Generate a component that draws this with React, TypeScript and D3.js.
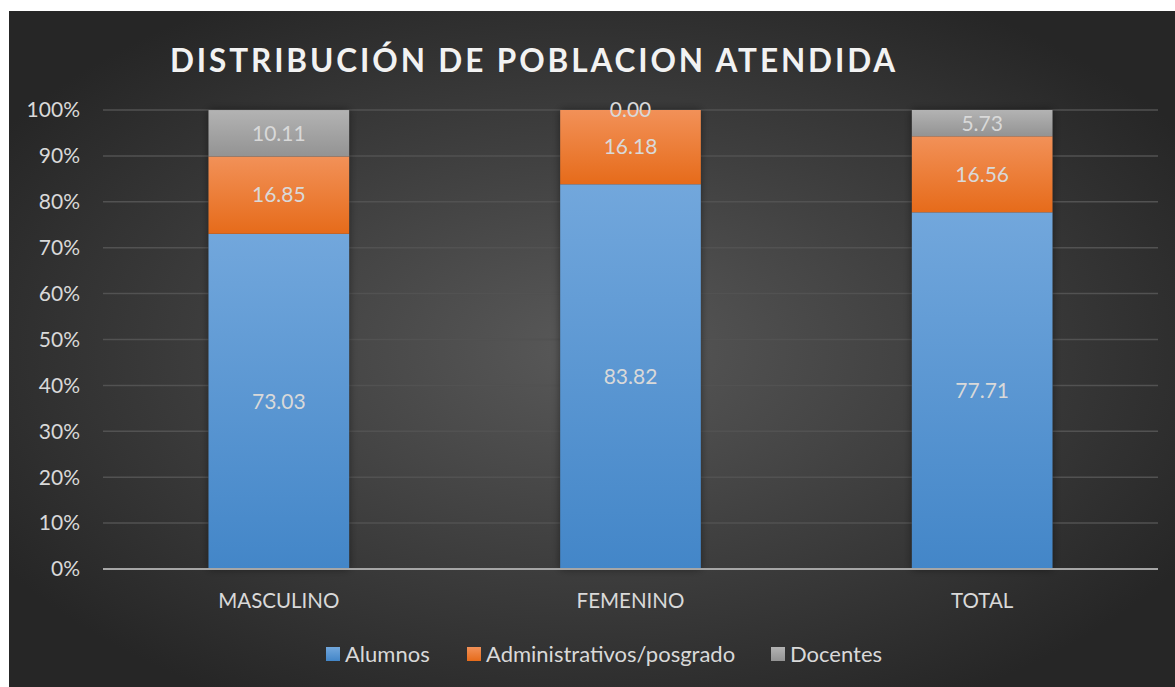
import React from "react";
import * as d3 from "d3";

const categories = ["MASCULINO", "FEMENINO", "TOTAL"];
const seriesNames = ["Alumnos", "Administrativos/posgrado", "Docentes"];
const alumnos = [73.03, 83.82, 77.71];
const administrativos = [16.85, 16.18, 16.56];
const docentes = [10.11, 0.0, 5.73];
const yTicks = [0, 10, 20, 30, 40, 50, 60, 70, 80, 90, 100];

const W = 1166;
const H = 676;
const OX = 9;
const OY = 11;
const FONT = "Lato, 'Open Sans', sans-serif";

const gradIds = ["gBlue", "gOrange", "gGray"];
const gradStops = [
  ["#72a7dc", "#4386c8"],
  ["#f29158", "#e66b1a"],
  ["#b3b3b3", "#939393"],
];

export default function App() {
  const x = d3
    .scaleBand<string>()
    .domain(categories)
    .range([103 - OX, 1158 - OX])
    .paddingInner(0.6)
    .paddingOuter(0.3);
  const y = d3.scaleLinear().domain([0, 100]).range([569 - OY, 110 - OY]);

  const rows = categories.map((c, i) => ({
    cat: c,
    Alumnos: alumnos[i],
    "Administrativos/posgrado": administrativos[i],
    Docentes: docentes[i],
  }));
  const stack = d3.stack<any>().keys(seriesNames)(rows);

  const legendX = [326 - OX, 467 - OX, 771 - OX];
  const legendY = 654 - OY;

  return (
    <svg
      width={W}
      height={H}
      style={{ position: "absolute", left: OX, top: OY, display: "block" }}
    >
      <defs>
        <radialGradient id="bg" cx="50%" cy="50%" r="60%" fx="50%" fy="50%">
          <stop offset="0%" stopColor="#595959" />
          <stop offset="100%" stopColor="#262626" />
        </radialGradient>
        {gradIds.map((id, i) => (
          <linearGradient key={id} id={id} x1="0" y1="0" x2="0" y2="1">
            <stop offset="0%" stopColor={gradStops[i][0]} />
            <stop offset="100%" stopColor={gradStops[i][1]} />
          </linearGradient>
        ))}
        <filter id="shadow" x="-20%" y="-20%" width="140%" height="140%">
          <feDropShadow dx="0" dy="0" stdDeviation="4" floodColor="#000" floodOpacity="0.45" />
        </filter>
      </defs>
      <rect x={0} y={0} width={W} height={H} fill="url(#bg)" />

      <text
        x={534 - OX}
        y={72 - OY}
        textAnchor="middle"
        fill="#f2f2f2"
        fontFamily={FONT}
        fontWeight={700}
        fontSize={31.5}
        letterSpacing={2.9}
      >
        DISTRIBUCIÓN DE POBLACION ATENDIDA
      </text>

      {yTicks.map((t) => (
        <g key={t}>
          {t > 0 && (
            <line
              x1={103 - OX}
              x2={1158 - OX}
              y1={y(t)}
              y2={y(t)}
              stroke="#525252"
              strokeWidth={1.5}
            />
          )}
          <text
            x={80 - OX}
            y={y(t)}
            dy="0.35em"
            textAnchor="end"
            fill="#d9d9d9"
            fontFamily={FONT}
            fontSize={21}
          >
            {t}%
          </text>
        </g>
      ))}

      {categories.map((c) => (
        <rect
          key={"sh" + c}
          x={x(c)!}
          y={y(100)}
          width={x.bandwidth()}
          height={y(0) - y(100)}
          fill="#333"
          filter="url(#shadow)"
        />
      ))}

      {stack.map((s, si) => (
        <g key={s.key}>
          {s.map((d, i) => (
            <rect
              key={i}
              x={x(categories[i])!}
              y={y(d[1])}
              width={x.bandwidth()}
              height={Math.max(0, y(d[0]) - y(d[1]))}
              fill={`url(#${gradIds[si]})`}
            />
          ))}
        </g>
      ))}

      {stack.map((s, si) => (
        <g key={"l" + s.key}>
          {s.map((d, i) => (
            <text
              key={i}
              x={x(categories[i])! + x.bandwidth() / 2}
              y={y((d[0] + d[1]) / 2)}
              dy="0.35em"
              textAnchor="middle"
              fill="#d9d9d9"
              fontFamily={FONT}
              fontSize={21}
            >
              {(d[1] - d[0]).toFixed(2)}
            </text>
          ))}
        </g>
      ))}

      <line
        x1={103 - OX}
        x2={1158 - OX}
        y1={y(0)}
        y2={y(0)}
        stroke="#a6a6a6"
        strokeWidth={2}
      />

      {categories.map((c) => (
        <text
          key={"c" + c}
          x={x(c)! + x.bandwidth() / 2}
          y={601 - OY}
          dy="0.35em"
          textAnchor="middle"
          fill="#d9d9d9"
          fontFamily={FONT}
          fontSize={20.5}
        >
          {c}
        </text>
      ))}

      {seriesNames.map((n, i) => (
        <g key={"lg" + n}>
          <rect
            x={legendX[i]}
            y={legendY - 7}
            width={14}
            height={14}
            fill={`url(#${gradIds[i]})`}
          />
          <text
            x={legendX[i] + 19}
            y={legendY}
            dy="0.35em"
            fill="#d9d9d9"
            fontFamily={FONT}
            fontSize={22}
          >
            {n}
          </text>
        </g>
      ))}
    </svg>
  );
}
